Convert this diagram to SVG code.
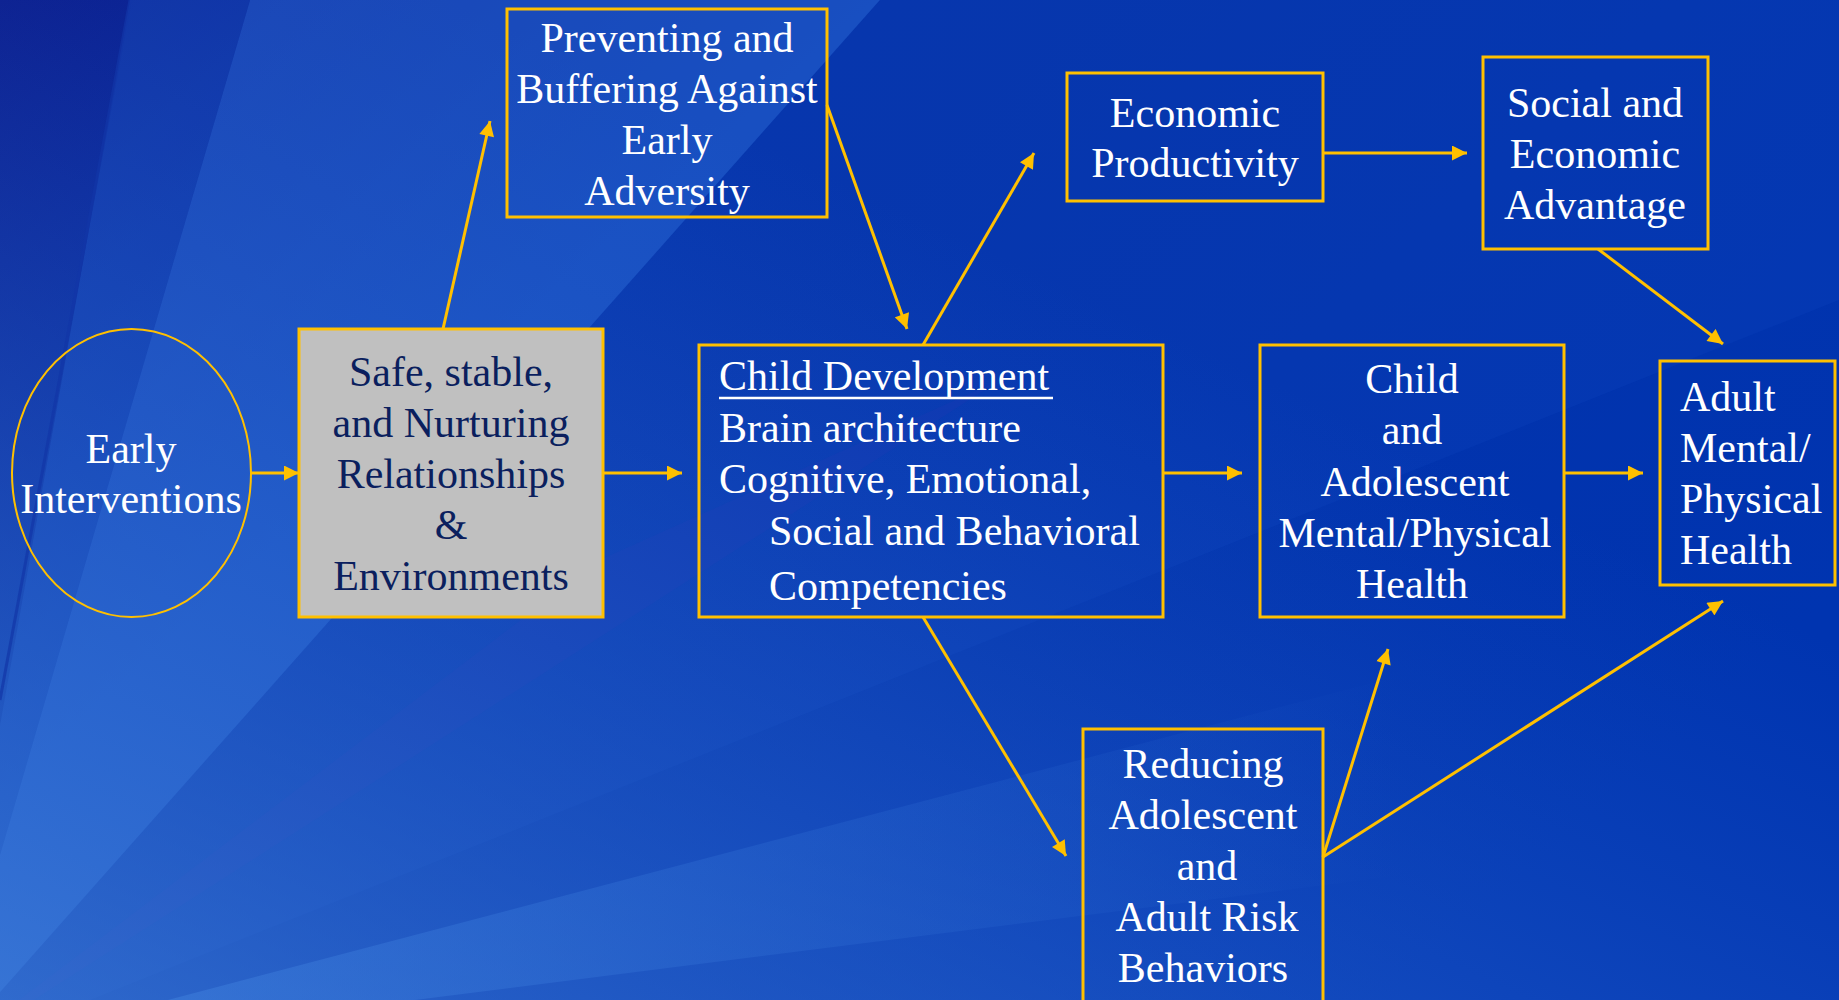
<svg xmlns="http://www.w3.org/2000/svg" width="1839" height="1000" viewBox="0 0 1839 1000">
<style>
.box{fill:none;stroke:#FFC000;stroke-width:3}
.t{font-family:"Liberation Serif","Times New Roman",serif;font-size:42px;fill:#FFFFFF}
.tc{text-anchor:middle}
.dark{fill:#0B1F5E}
.conn line{stroke:#FFC000;stroke-width:3;marker-end:url(#ah)}
</style>
<defs>
<linearGradient id="bg" x1="0" y1="0" x2="1" y2="0.6">
<stop offset="0" stop-color="#0A1A8A"/>
<stop offset="0.35" stop-color="#0432A8"/>
<stop offset="1" stop-color="#0034B0"/>
</linearGradient>
<linearGradient id="lowl" x1="0" y1="1" x2="0.6" y2="0.3">
<stop offset="0" stop-color="#4C8DE2"/>
<stop offset="1" stop-color="#2A6AD8" stop-opacity="0"/>
</linearGradient>
<linearGradient id="fade" gradientUnits="userSpaceOnUse" x1="0" y1="0" x2="1400" y2="0">
<stop offset="0" stop-color="#3A7EDF" stop-opacity="0.5"/>
<stop offset="1" stop-color="#3A7EDF" stop-opacity="0"/>
</linearGradient>
<marker id="ah" viewBox="0 0 15 15" refX="15" refY="7.5" markerWidth="16" markerHeight="15" orient="auto" markerUnits="userSpaceOnUse">
<path d="M0,0 L15,7.5 L0,15 Z" fill="#FFC000"/>
</marker>
</defs>
<g id="background">
<rect x="0" y="0" width="1839" height="1000" fill="url(#bg)"/>
<polygon points="-60,1060 250,0 880,0" fill="#2C6BDA" opacity="0.5"/>
<polygon points="-60,1060 880,0 1839,0 1839,300" fill="#1A52CC" opacity="0.15"/>
<polygon points="-60,1060 1839,560 1839,820" fill="url(#fade)"/>
<polygon points="-60,1060 600,560 1000,380 720,560" fill="#1A35B0" opacity="0.35"/>
<polygon points="-60,1060 250,0 130,0" fill="#1E58CC" opacity="0.35"/>
<rect x="0" y="0" width="1839" height="1000" fill="url(#lowl)" opacity="0.6"/>
<line x1="130" y1="0" x2="0" y2="700" stroke="#1236A8" stroke-width="3" opacity="0.7"/>
</g>
<g id="connectors" class="conn">
<line x1="251" y1="473" x2="299" y2="473"/>
<line x1="603" y1="473" x2="682" y2="473"/>
<line x1="443" y1="329" x2="490" y2="121"/>
<line x1="827" y1="105" x2="907" y2="329"/>
<line x1="923" y1="345" x2="1034" y2="153"/>
<line x1="1323" y1="153" x2="1467" y2="153"/>
<line x1="1598" y1="249" x2="1723" y2="344"/>
<line x1="1163" y1="473" x2="1242" y2="473"/>
<line x1="1564" y1="473" x2="1643" y2="473"/>
<line x1="923" y1="617" x2="1066" y2="856"/>
<line x1="1323" y1="857" x2="1388" y2="649"/>
<line x1="1323" y1="857" x2="1723" y2="601"/>
</g>
<g id="early-interventions">
<ellipse cx="131.5" cy="473" rx="119.5" ry="144" fill="none" stroke="#FFC000" stroke-width="2"/>
<text class="t tc" x="131" y="463">Early</text>
<text class="t tc" x="131" y="513">Interventions</text>
</g>
<g id="safe-stable">
<rect x="299" y="329" width="304" height="288" fill="#C0C0C0" stroke="#FFC000" stroke-width="3"/>
<text class="t tc dark" x="451" y="386">Safe, stable,</text>
<text class="t tc dark" x="451" y="437">and Nurturing</text>
<text class="t tc dark" x="451" y="488">Relationships</text>
<text class="t tc dark" x="451" y="539">&amp;</text>
<text class="t tc dark" x="451" y="590">Environments</text>
</g>
<g id="preventing">
<rect class="box" x="507" y="9" width="320" height="208"/>
<text class="t tc" x="667" y="52">Preventing and</text>
<text class="t tc" x="667" y="103">Buffering Against</text>
<text class="t tc" x="667" y="154">Early</text>
<text class="t tc" x="667" y="205">Adversity</text>
</g>
<g id="child-development">
<rect class="box" x="699" y="345" width="464" height="272"/>
<text class="t" x="719" y="390">Child Development</text>
<line x1="719" y1="398" x2="1053" y2="398" stroke="#FFFFFF" stroke-width="2.5"/>
<text class="t" x="719" y="442">Brain architecture</text>
<text class="t" x="719" y="493">Cognitive, Emotional,</text>
<text class="t" x="769" y="545">Social and Behavioral</text>
<text class="t" x="769" y="600">Competencies</text>
</g>
<g id="economic-productivity">
<rect class="box" x="1067" y="73" width="256" height="128"/>
<text class="t tc" x="1195" y="127">Economic</text>
<text class="t tc" x="1195" y="177">Productivity</text>
</g>
<g id="social-economic-advantage">
<rect class="box" x="1483" y="57" width="225" height="192"/>
<text class="t tc" x="1595" y="117">Social and</text>
<text class="t tc" x="1595" y="168">Economic</text>
<text class="t tc" x="1595" y="219">Advantage</text>
</g>
<g id="child-adolescent-health">
<rect class="box" x="1260" y="345" width="304" height="272"/>
<text class="t tc" x="1412" y="393">Child</text>
<text class="t tc" x="1412" y="444">and</text>
<text class="t tc" x="1415" y="496">Adolescent</text>
<text class="t tc" x="1415" y="547">Mental/Physical</text>
<text class="t tc" x="1412" y="598">Health</text>
</g>
<g id="adult-health">
<rect class="box" x="1660" y="361" width="175" height="224"/>
<text class="t" x="1680" y="411">Adult</text>
<text class="t" x="1680" y="462">Mental/</text>
<text class="t" x="1680" y="513">Physical</text>
<text class="t" x="1680" y="564">Health</text>
</g>
<g id="reducing-risk">
<rect class="box" x="1083" y="729" width="240" height="300"/>
<text class="t tc" x="1203" y="778">Reducing</text>
<text class="t tc" x="1203" y="829">Adolescent</text>
<text class="t tc" x="1207" y="880">and</text>
<text class="t tc" x="1207" y="931">Adult Risk</text>
<text class="t tc" x="1203" y="982">Behaviors</text>
</g>
</svg>
